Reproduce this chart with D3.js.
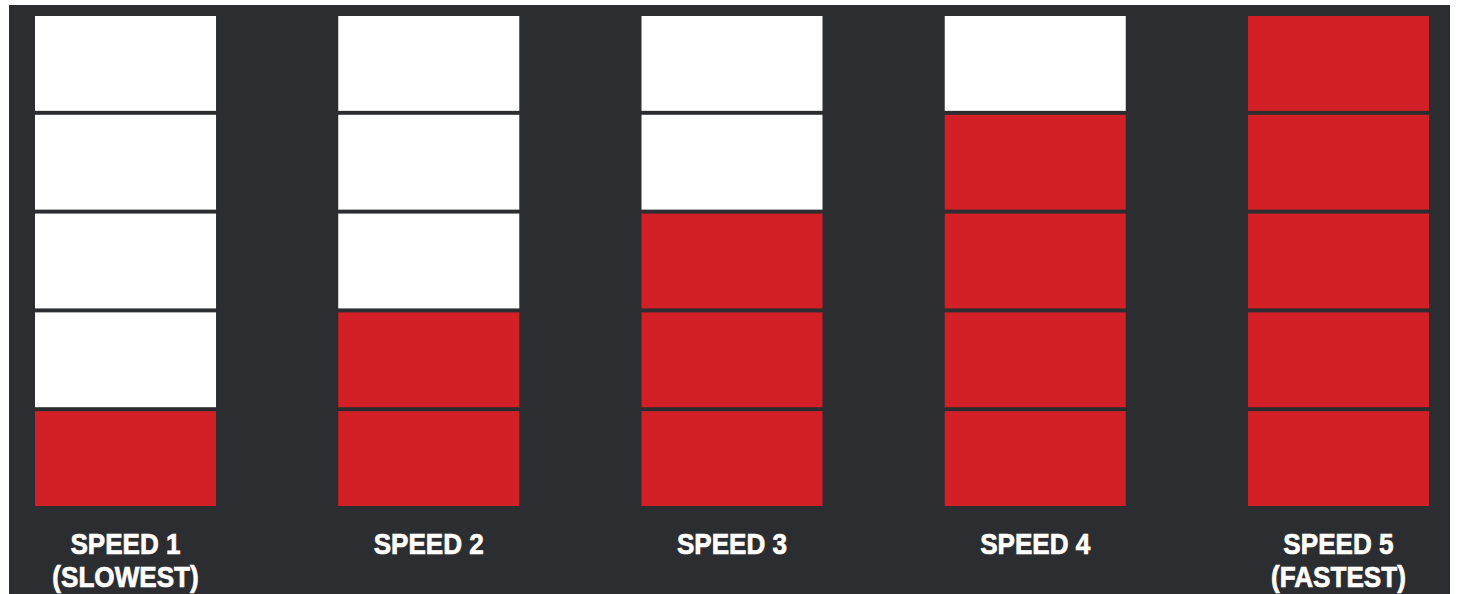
<!DOCTYPE html>
<html>
<head>
<meta charset="utf-8">
<script src="https://cdn.jsdelivr.net/npm/d3@7"></script>
<style>
  html, body { margin: 0; padding: 0; background: #ffffff; }
  svg { display: block; }
</style>
</head>
<body>
<div class="plot-container"></div>
<script>
// speed levels, label lines, and how many of the 5 blocks are lit
const speeds = ["SPEED 1", "SPEED 2", "SPEED 3", "SPEED 4", "SPEED 5"];
const subLabels = ["(SLOWEST)", "", "", "", "(FASTEST)"];
const filled = [1, 2, 3, 4, 5];
const levels = [1, 2, 3, 4, 5];

const width = 1457, height = 594;
const BG = "#2c2d31";
const ON_COLOR = "#d32027";
const OFF_COLOR = "#ffffff";

const svg = d3.select("div.plot-container").append("svg")
  .attr("width", width)
  .attr("height", height);

// dark panel
svg.append("rect")
  .attr("x", 9).attr("y", 5)
  .attr("width", 1441).attr("height", height - 5)
  .attr("fill", BG);

const x = d3.scaleBand()
  .domain(speeds)
  .range([35, 1429])
  .paddingInner(0.403)
  .paddingOuter(0);

// level 1 at the bottom
const y = d3.scaleBand()
  .domain(levels.slice().reverse())
  .range([16, 506])
  .paddingInner(0.04);

const cells = [];
speeds.forEach((s, i) => {
  levels.forEach(l => cells.push({ speed: s, level: l, on: l <= filled[i] }));
});

svg.append("g")
  .selectAll("rect")
  .data(cells)
  .enter()
  .append("rect")
  .attr("x", d => x(d.speed))
  .attr("y", d => y(d.level))
  .attr("width", x.bandwidth())
  .attr("height", y.bandwidth())
  .attr("fill", d => d.on ? ON_COLOR : OFF_COLOR);

const labels = svg.append("g")
  .attr("fill", "#ffffff")
  .attr("stroke", "#ffffff")
  .attr("stroke-width", 0.7)
  .attr("text-anchor", "middle")
  .style("font-family", "'Liberation Sans', Arial, sans-serif")
  .style("font-weight", "bold")
  .style("font-size", "29px");

labels.selectAll("text.main")
  .data(speeds)
  .enter()
  .append("text")
  .attr("class", "main")
  .attr("transform", d => `translate(${x(d) + x.bandwidth() / 2},554) scale(0.9,1)`)
  .text(d => d);

labels.selectAll("text.sub")
  .data(subLabels)
  .enter()
  .append("text")
  .attr("class", "sub")
  .attr("transform", (d, i) => `translate(${x(speeds[i]) + x.bandwidth() / 2},587) scale(0.9,1)`)
  .text(d => d);
</script>
</body>
</html>
